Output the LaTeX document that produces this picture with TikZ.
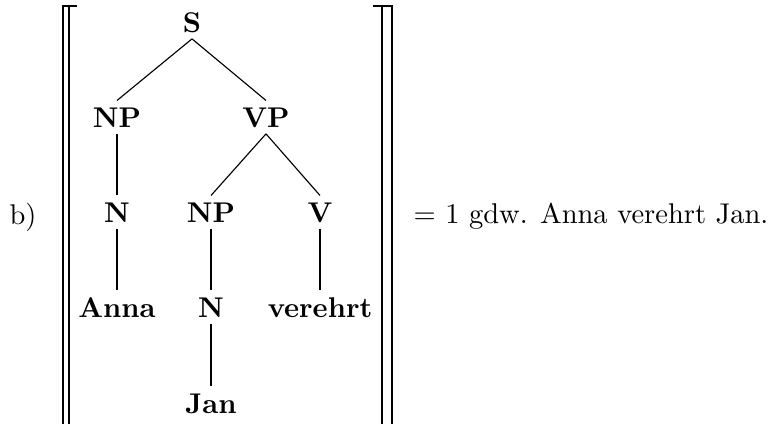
\documentclass[tikz,border=0pt]{standalone}
\begin{document}
\begin{tikzpicture}[x=0.3505pt,y=-0.3505pt,
  lbl/.style={font=\bfseries, anchor=base, inner xsep=1pt, inner ysep=2.2pt, text height=6.9pt, text depth=0pt},
  edge/.style={line width=0.4pt},
  brk/.style={line width=0.6pt}]
\useasboundingbox (0,0) rectangle (770,423);
% labels
\node[anchor=base] (lab) at (23,224) {b)};
\node[anchor=base west, inner sep=0pt] (eq) at (413,223) {$=$ 1 gdw. Anna verehrt Jan.};
% tree nodes
\node[lbl] (S) at (192,32) {S};
\node[lbl] (NP1) at (117,127) {NP};
\node[lbl] (VP) at (266,127) {VP};
\node[lbl] (N1) at (117,222) {N};
\node[lbl] (NP2) at (211,222) {NP};
\node[lbl] (V) at (320,222) {V};
\node[lbl] (Anna) at (117,317) {Anna};
\node[lbl] (N2) at (211,317) {N};
\node[lbl] (verehrt) at (320,317) {verehrt};
\node[lbl] (Jan) at (211,413) {Jan};
% edges
\draw[edge] (S.south) -- (NP1.north);
\draw[edge] (S.south) -- (VP.north);
\draw[edge] (NP1.south) -- (N1.north);
\draw[edge] (N1.south) -- (Anna.north);
\draw[edge] (VP.south) -- (NP2.north);
\draw[edge] (VP.south) -- (V.north);
\draw[edge] (NP2.south) -- (N2.north);
\draw[edge] (N2.south) -- (Jan.north);
\draw[edge] (V.south) -- (verehrt.north);
% semantic brackets
\coordinate (lt) at (63,6);
\draw[brk] (77,6) -- (lt) -- (63,430);
\draw[brk] (69,6) -- (69,430);
\coordinate (rt) at (392,6);
\draw[brk] (373,6) -- (rt) -- (392,430);
\draw[brk] (382,6) -- (382,430);
\end{tikzpicture}
\end{document}
